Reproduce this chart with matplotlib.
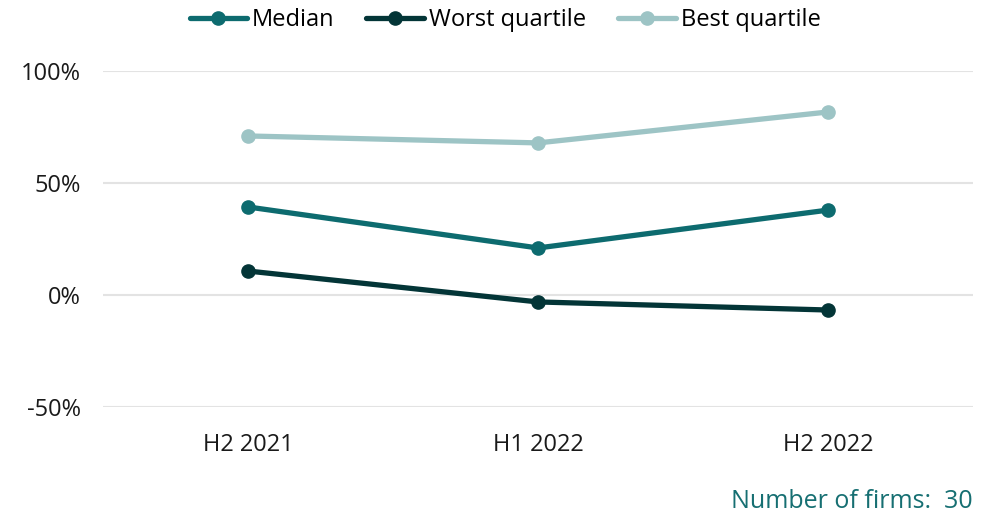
import matplotlib
matplotlib.use("Agg")
import matplotlib.pyplot as plt
from matplotlib.ticker import FuncFormatter

plt.rcParams['font.family'] = ['Open Sans', 'DejaVu Sans']

categories = ["H2 2021", "H1 2022", "H2 2022"]
median = [39.3, 21.0, 37.9]
worst = [10.7, -3.1, -6.7]
best = [71.0, 67.9, 81.7]
yticks = [-50, 0, 50, 100]
note = "Number of firms:  30"

c_median = "#0d6b6f"
c_worst = "#033537"
c_best = "#9dc4c5"

fig = plt.figure(figsize=(9.97, 5.14), dpi=100)
ax = fig.add_axes([103/997, (514-407)/514, 870/997, 336/514])

x = list(range(len(categories)))
for vals, col, lab in [(median, c_median, "Median"), (worst, c_worst, "Worst quartile"), (best, c_best, "Best quartile")]:
    ax.plot(x, vals, color=col, lw=3.8, marker='o', ms=9.5, label=lab, solid_capstyle='round', zorder=3)

ax.set_xlim(-0.5, 2.5)
ax.set_ylim(-50, 100)
ax.set_yticks(yticks)
ax.yaxis.set_major_formatter(FuncFormatter(lambda v, p: f"{int(v)}%"))
ax.set_xticks(x)
ax.set_xticklabels(categories)
ax.grid(axis='y', color='#e3e3e3', lw=1.5, zorder=0)
ax.grid(axis='x', visible=False)
for s in ax.spines.values():
    s.set_visible(False)
ax.tick_params(axis='both', length=0, labelsize=17, colors='#1a1a1a')
ax.tick_params(axis='y', pad=16)
ax.tick_params(axis='x', pad=19)

leg = fig.legend(loc='center', bbox_to_anchor=(505/997, 1 - 20/514), ncol=3, frameon=False,
                 fontsize=17, handlelength=2.45, columnspacing=1.35, handletextpad=0.2,
                 borderpad=0, borderaxespad=0)

fig.text(973/997, 1 - 501/514, note, ha='right', va='center', fontsize=18, color='#166f72')

fig.savefig("out.png", dpi=100)
